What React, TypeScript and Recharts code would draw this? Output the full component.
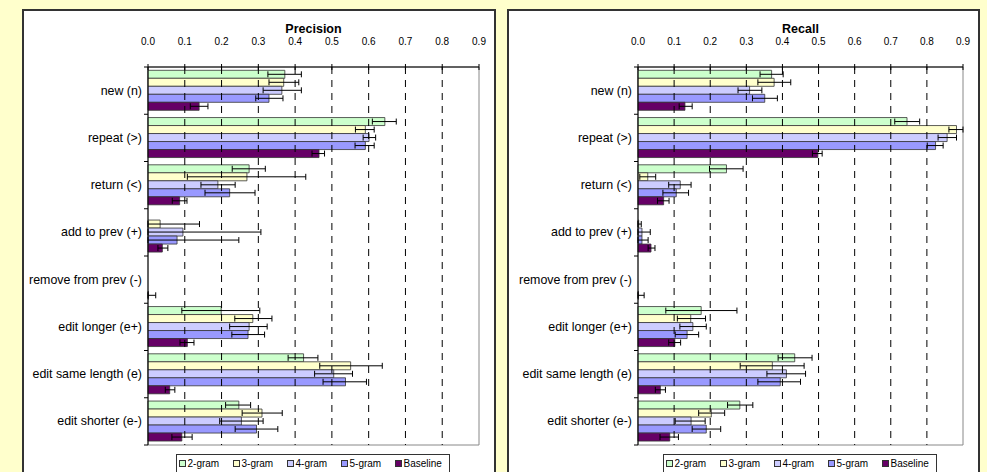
import React from 'react';
import { BarChart, Bar, XAxis, YAxis, ErrorBar, ReferenceLine, ReferenceArea } from 'recharts';

// ---------- data ----------
const categories = [
  'new (n)',
  'repeat (>)',
  'return (<)',
  'add to prev (+)',
  'remove from prev (-)',
  'edit longer (e+)',
  'edit same length (e)',
  'edit shorter (e-)',
];
const seriesNames = ['2-gram', '3-gram', '4-gram', '5-gram', 'Baseline'];
const seriesColors = ['#CCFFCC', '#FFFFCC', '#CCCCFF', '#9999FF', '#660066'];
const xTicks = [0, 0.1, 0.2, 0.3, 0.4, 0.5, 0.6, 0.7, 0.8, 0.9];
const gridValues = [0.1, 0.2, 0.3, 0.4, 0.5, 0.6, 0.7, 0.8];

// [value, error low bound, error high bound]
type Obs = [number, number, number] | null;

const precision2gram: Obs[] = [[0.372, 0.326, 0.417], [0.644, 0.61, 0.675], [0.275, 0.229, 0.319], null, null, [0.199, 0.092, 0.304], [0.423, 0.381, 0.462], [0.247, 0.211, 0.279]];
const precision3gram: Obs[] = [[0.369, 0.329, 0.41], [0.591, 0.564, 0.615], [0.269, 0.107, 0.429], [0.033, 0, 0.14], null, [0.285, 0.236, 0.337], [0.551, 0.467, 0.637], [0.31, 0.256, 0.365]];
const precision4gram: Obs[] = [[0.364, 0.313, 0.417], [0.601, 0.585, 0.619], [0.19, 0.144, 0.237], [0.095, 0, 0.307], null, [0.275, 0.222, 0.324], [0.505, 0.453, 0.556], [0.254, 0.195, 0.313]];
const precision5gram: Obs[] = [[0.329, 0.293, 0.367], [0.591, 0.563, 0.615], [0.222, 0.155, 0.291], [0.079, 0, 0.247], null, [0.272, 0.228, 0.317], [0.537, 0.476, 0.594], [0.295, 0.237, 0.353]];
const precisionBaseline: Obs[] = [[0.139, 0.115, 0.163], [0.465, 0.446, 0.48], [0.086, 0.066, 0.106], [0.039, 0.027, 0.054], [0.001, 0, 0.021], [0.107, 0.087, 0.125], [0.059, 0.047, 0.073], [0.092, 0.065, 0.12]];

const recall2gram: Obs[] = [[0.37, 0.338, 0.402], [0.745, 0.711, 0.78], [0.245, 0.198, 0.291], null, null, [0.175, 0.077, 0.274], [0.434, 0.388, 0.482], [0.282, 0.248, 0.318]];
const recall3gram: Obs[] = [[0.377, 0.332, 0.423], [0.882, 0.861, 0.9], [0.027, 0.005, 0.049], [0.002, 0, 0.009], null, [0.146, 0.109, 0.187], [0.372, 0.283, 0.46], [0.203, 0.168, 0.24]];
const recall4gram: Obs[] = [[0.309, 0.277, 0.343], [0.856, 0.831, 0.882], [0.117, 0.085, 0.147], [0.011, 0, 0.034], null, [0.152, 0.116, 0.189], [0.411, 0.357, 0.464], [0.147, 0.103, 0.186]];
const recall5gram: Obs[] = [[0.351, 0.317, 0.386], [0.824, 0.801, 0.845], [0.106, 0.069, 0.14], [0.011, 0, 0.028], null, [0.136, 0.103, 0.168], [0.394, 0.332, 0.45], [0.189, 0.15, 0.229]];
const recallBaseline: Obs[] = [[0.13, 0.114, 0.15], [0.498, 0.483, 0.51], [0.071, 0.054, 0.086], [0.036, 0.028, 0.047], [0.001, 0, 0.017], [0.102, 0.085, 0.118], [0.062, 0.048, 0.076], [0.088, 0.061, 0.112]];

function buildRows(series: Obs[][]) {
  return categories.map((cat, i) => {
    const row: any = { cat };
    series.forEach((s, k) => {
      const o = s[i];
      if (o) {
        row['v' + k] = o[0];
        row['e' + k] = [+(o[0] - o[1]).toFixed(4), +(o[2] - o[0]).toFixed(4)];
      }
    });
    return row;
  });
}

const precisionRows = buildRows([precision2gram, precision3gram, precision4gram, precision5gram, precisionBaseline]);
const recallRows = buildRows([recall2gram, recall3gram, recall4gram, recall5gram, recallBaseline]);

// ---------- layout ----------
const FONT = '"Liberation Sans", Arial, Helvetica, sans-serif';
const CHART_TOP = 9;
const CHART_H = 463;
const X_AXIS_H = 58;
const MARGIN_BOTTOM = 27;
const PLOT_H = CHART_H - X_AXIS_H - MARGIN_BOTTOM;
const BAND = PLOT_H / categories.length;

const XTick = (props: any) => {
  const { x, y, payload } = props;
  return (
    <g>
      <line x1={x} x2={x} y1={y - 3} y2={y + 3} stroke="#000" strokeWidth={1} />
      <text x={x} y={y - 22} textAnchor="middle" fontSize={10} fill="#000" fontFamily={FONT}>
        {Number(payload.value).toFixed(1)}
      </text>
    </g>
  );
};

const YTick = (props: any) => {
  const { x, y, payload, index } = props;
  const idx = typeof index === 'number' ? index : payload.index;
  return (
    <g>
      <line x1={x - 4} x2={x} y1={y - BAND / 2} y2={y - BAND / 2} stroke="#000" strokeWidth={1} />
      {idx === categories.length - 1 && (
        <line x1={x - 4} x2={x} y1={y + BAND / 2} y2={y + BAND / 2} stroke="#000" strokeWidth={1} />
      )}
      <text x={x - 6} y={y} textAnchor="end" dominantBaseline="central" fontSize={12.4} fill="#000" fontFamily={FONT}>
        {payload.value}
      </text>
    </g>
  );
};

function Legend({ center }: { center: number }) {
  return (
    <div
      style={{
        position: 'absolute',
        left: center - 138,
        top: 454,
        width: 274,
        height: 24,
        border: '1px solid #333',
        background: '#fff',
        display: 'flex',
        alignItems: 'flex-start',
        paddingLeft: 2,
        boxSizing: 'border-box',
        fontFamily: FONT,
        fontSize: 10,
        color: '#000',
      }}
    >
      {seriesNames.map((n, k) => (
        <div key={n} style={{ width: 55, height: 16, display: 'flex', alignItems: 'center' }}>
          <span
            style={{
              display: 'inline-block',
              width: 5,
              height: 5,
              border: '1px solid #333',
              background: seriesColors[k],
              marginRight: 2,
            }}
          />
          <span>{n}</span>
        </div>
      ))}
    </div>
  );
}

function Panel({
  rows,
  title,
  panelLeft,
  panelWidth,
  yAxisWidth,
}: {
  rows: any[];
  title: string;
  panelLeft: number;
  panelWidth: number;
  yAxisWidth: number;
}) {
  const marginRight = 17;
  const plotLeft = panelLeft + yAxisWidth;
  const plotWidth = panelWidth - yAxisWidth - marginRight;
  const center = plotLeft + plotWidth / 2;
  return (
    <>
      <div
        style={{
          position: 'absolute',
          left: panelLeft,
          top: CHART_TOP,
          width: panelWidth,
          height: 480,
          background: '#fff',
          border: '2px solid #333',
          boxSizing: 'border-box',
        }}
      />
      <div
        style={{
          position: 'absolute',
          left: plotLeft,
          width: plotWidth,
          top: 22,
          lineHeight: '15px',
          textAlign: 'center',
          fontFamily: FONT,
          fontWeight: 'bold',
          fontSize: 12.5,
          color: '#000',
        }}
      >
        {title}
      </div>
      <div style={{ position: 'absolute', left: panelLeft, top: CHART_TOP }}>
        <BarChart
          width={panelWidth}
          height={CHART_H}
          data={rows}
          layout="vertical"
          margin={{ top: 0, right: marginRight, bottom: MARGIN_BOTTOM, left: 0 }}
          barCategoryGap="7%"
          barGap={0}
        >
          <XAxis
            type="number"
            orientation="top"
            domain={[0, 0.9]}
            ticks={xTicks}
            height={X_AXIS_H}
            axisLine={{ stroke: '#000', strokeWidth: 1 }}
            tickLine={false}
            tickSize={0}
            tickMargin={0}
            tick={<XTick />}
            interval={0}
          />
          <YAxis
            type="category"
            dataKey="cat"
            width={yAxisWidth}
            axisLine={{ stroke: '#000', strokeWidth: 1 }}
            tickLine={false}
            tickSize={0}
            tickMargin={0}
            tick={<YTick />}
            interval={0}
          />
          <ReferenceArea x1={0} x2={0.9} fill="none" stroke="#888" strokeWidth={1} />
          {gridValues.map((v) => (
            <ReferenceLine key={v} x={v} stroke="#000" strokeWidth={1} strokeDasharray="7 6" />
          ))}
          {seriesNames.map((n, k) => (
            <Bar
              key={n}
              dataKey={'v' + k}
              name={n}
              fill={seriesColors[k]}
              stroke="#333"
              strokeWidth={0.8}
              isAnimationActive={false}
            >
              <ErrorBar
                dataKey={'e' + k}
                direction="x"
                width={3}
                stroke="#000"
                strokeWidth={1}
                isAnimationActive={false}
              />
            </Bar>
          ))}
        </BarChart>
      </div>
      <Legend center={center} />
    </>
  );
}

export default function App() {
  return (
    <div
      style={{
        position: 'absolute',
        left: 0,
        top: 0,
        width: 987,
        height: 472,
        overflow: 'hidden',
        background: '#FFFFCC',
        fontFamily: FONT,
      }}
    >
      <Panel rows={precisionRows} title="Precision" panelLeft={22} panelWidth={474} yAxisWidth={126} />
      <Panel rows={recallRows} title="Recall" panelLeft={507} panelWidth={473} yAxisWidth={131} />
    </div>
  );
}
